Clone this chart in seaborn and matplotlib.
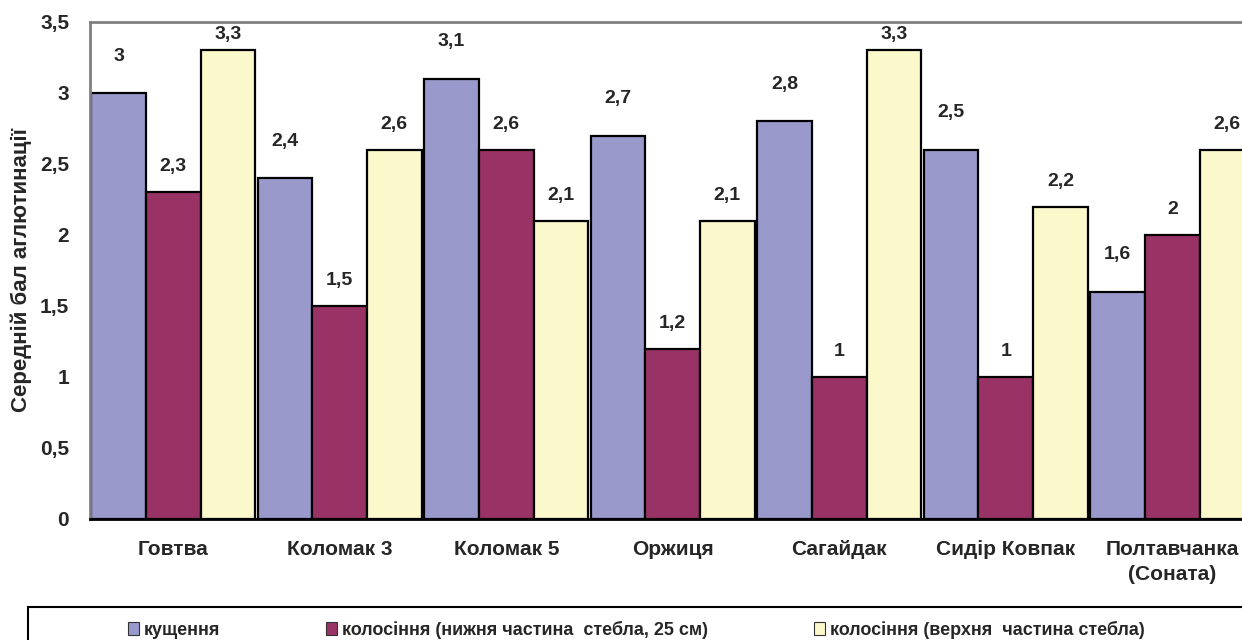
import numpy as np
import pandas as pd
import matplotlib
matplotlib.use("Agg")
import matplotlib.pyplot as plt
from matplotlib.patches import Patch, Rectangle
import seaborn as sns

# data
varieties = ["Говтва", "Коломак 3", "Коломак 5", "Оржиця", "Сагайдак", "Сидір Ковпак", "Полтавчанка\n(Соната)"]
phases = ["кущення", "колосіння (нижня частина  стебла, 25 см)", "колосіння (верхня  частина стебла)"]
tillering = [3.0, 2.4, 3.1, 2.7, 2.8, 2.6, 1.6]
heading_low = [2.3, 1.5, 2.6, 1.2, 1.0, 1.0, 2.0]
heading_top = [3.3, 2.6, 2.1, 2.1, 3.3, 2.2, 2.6]
value_labels = [
    ["3", "2,4", "3,1", "2,7", "2,8", "2,5", "1,6"],
    ["2,3", "1,5", "2,6", "1,2", "1", "1", "2"],
    ["3,3", "2,6", "2,1", "2,1", "3,3", "2,2", "2,6"],
]
ytick_labels = ["0", "0,5", "1", "1,5", "2", "2,5", "3", "3,5"]
colors = ["#9999cc", "#993366", "#fbf8cc"]

df = pd.DataFrame({
    "variety": varieties * 3,
    "phase": [phases[0]] * 7 + [phases[1]] * 7 + [phases[2]] * 7,
    "score": tillering + heading_low + heading_top,
})

sns.set_style("white")
plt.rcParams["font.family"] = ["Liberation Sans", "DejaVu Sans"]
plt.rcParams["font.weight"] = "bold"

fig = plt.figure(figsize=(12.42, 6.40), dpi=100)
ax = fig.add_axes([90 / 1242, 1 - 519 / 640, 1165.5 / 1242, 497 / 640])

sns.barplot(data=df, x="variety", y="score", hue="phase", hue_order=phases,
            palette=colors, width=0.985, saturation=1, edgecolor="black",
            linewidth=1.6, legend=False, ax=ax, errorbar=None)

# value labels above bars
for i, cont in enumerate(ax.containers):
    off = 0.26 if i == 0 else 0.18
    for j, bar in enumerate(cont):
        h = bar.get_height()
        y = min(h + off, 3.41)
        ax.text(bar.get_x() + bar.get_width() / 2, y, value_labels[i][j],
                ha="center", va="center", fontsize=14, fontweight="bold")

ax.set_xlim(-0.5, 6.5)
ax.set_ylim(0, 3.5)
ax.set_yticks(np.arange(0, 3.51, 0.5))
ax.set_yticklabels(ytick_labels, fontsize=15, fontweight="bold")
ax.set_xticks(range(7))
ax.set_xticklabels(varieties, fontsize=15, fontweight="bold", linespacing=1.4)
ax.set_xticks(np.arange(-0.5, 7, 1), minor=True)
ax.tick_params(axis="x", which="major", length=0, pad=15)
ax.tick_params(axis="x", which="minor", length=8, width=1.5, color="black", direction="out")
ax.tick_params(axis="y", length=6, width=1.5, color="black", direction="out", pad=9)
ax.set_xlabel("")
ax.set_ylabel("Середній бал аглютинації", fontsize=16, fontweight="bold", labelpad=6)

for side in ["left", "top", "right"]:
    ax.spines[side].set_color("#808080")
    ax.spines[side].set_linewidth(2)
ax.spines["bottom"].set_color("black")
ax.spines["bottom"].set_linewidth(2)

# legend box at the bottom
fig.patches.append(Rectangle((28 / 1242, -0.05), 1.0, 0.05 + 33 / 640, transform=fig.transFigure,
                             fill=False, edgecolor="black", linewidth=1.5))
handles = [Patch(facecolor=c, edgecolor="#333333", linewidth=0.8) for c in colors]
fig.legend(handles, phases, loc="center left", bbox_to_anchor=(119 / 1242, 1 - 630 / 640),
           ncol=3, frameon=False, fontsize=13, handlelength=0.6, handleheight=0.7,
           handletextpad=0.25, columnspacing=5.9, borderpad=0)

fig.savefig("out.png", dpi=100)
